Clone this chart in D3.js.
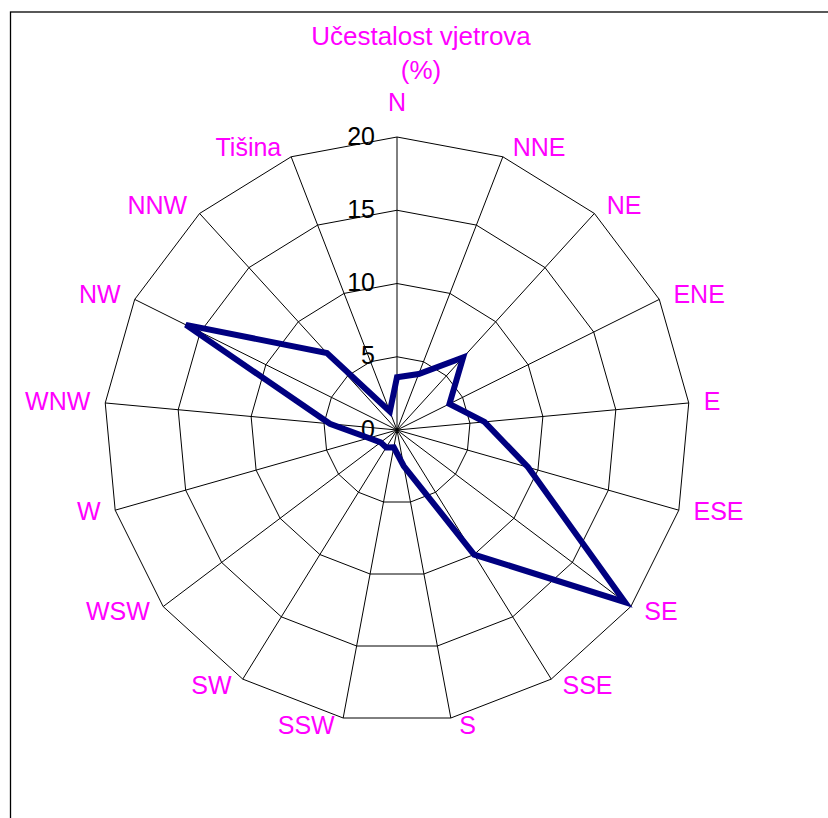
<!DOCTYPE html>
<html>
<head>
<meta charset="utf-8">
<script src="https://cdn.jsdelivr.net/npm/d3@7"></script>
<style>
  body { margin: 0; background: #fff; }
  svg { display: block; font-family: "Liberation Sans", Arial, sans-serif; }
</style>
</head>
<body>
<div class="displayContainer"></div>
<script>
// wind directions, last one is calm
const directions = ['N', 'NNE', 'NE', 'ENE', 'E', 'ESE', 'SE', 'SSE', 'S', 'SSW', 'SW', 'WSW', 'W', 'WNW', 'NW', 'NNW', 'Tišina'];
// frequency in %
const frequency = [3.6, 4.1, 6.7, 4.0, 6.0, 9.3, 19.5, 10.0, 2.5, 1.2, 1.4, 1.4, 2.0, 4.6, 16.1, 7.1, 1.35];
const ticks = [0, 5, 10, 15, 20];
const titleLines = ['Učestalost vjetrova', '(%)'];

const width = 828, height = 818;
const cx = 397, cy = 430;

const canvas = d3.select('.displayContainer')
                 .append('svg')
                 .attr('width', width)
                 .attr('height', height);

// frame (right/bottom edges run off the picture)
canvas.append('rect')
      .attr('x', 10.5).attr('y', 12)
      .attr('width', 900).attr('height', 900)
      .attr('fill', 'none')
      .attr('stroke', '#000')
      .attr('stroke-width', 1.3);

const rScale = d3.scaleLinear().domain([0, 20]).range([0, 293]);
const angle = d3.scaleLinear().domain([0, directions.length]).range([0, 2 * Math.PI]);

const pt = (i, v) => [cx + rScale(v) * Math.sin(angle(i)), cy - rScale(v) * Math.cos(angle(i))];

const g = canvas.append('g');

// rings
g.selectAll('.ring')
 .data(ticks.slice(1))
 .enter()
 .append('polygon')
 .attr('class', 'ring')
 .attr('points', t => directions.map((d, i) => pt(i, t).join(',')).join(' '))
 .attr('fill', 'none')
 .attr('stroke', '#000')
 .attr('stroke-width', 1);

// spokes
g.selectAll('.spoke')
 .data(directions)
 .enter()
 .append('line')
 .attr('class', 'spoke')
 .attr('x1', cx).attr('y1', cy)
 .attr('x2', (d, i) => pt(i, 20)[0])
 .attr('y2', (d, i) => pt(i, 20)[1])
 .attr('stroke', '#000')
 .attr('stroke-width', 1);

// tick labels
g.selectAll('.tick')
 .data(ticks)
 .enter()
 .append('text')
 .attr('class', 'tick')
 .attr('x', cx - 22)
 .attr('y', t => cy - rScale(t) + 1)
 .attr('text-anchor', 'end')
 .attr('dominant-baseline', 'middle')
 .style('font-size', '25px')
 .attr('fill', '#000')
 .text(t => t);

// series
const line = d3.line().curve(d3.curveLinearClosed);
g.append('path')
 .attr('d', line(frequency.map((v, i) => pt(i, v))))
 .attr('fill', 'none')
 .attr('stroke', '#000080')
 .attr('stroke-width', 6)
 .attr('stroke-linejoin', 'miter');

// category labels
g.selectAll('.cat')
 .data(directions)
 .enter()
 .append('text')
 .attr('class', 'cat')
 .each(function (d, i) {
   const a = angle(i);
   const s = Math.sin(a), c = Math.cos(a);
   const [ex, ey] = pt(i, 20);
   let anchor = 'middle', x = ex, y = ey - 9 * c + 1;
   if (s > 0.05) { anchor = 'start'; x = ex + 7 + 8 * Math.abs(s); }
   else if (s < -0.05) { anchor = 'end'; x = ex - 7 - 8 * Math.abs(s); }
   else { y = ey - 33 * c; }
   d3.select(this)
     .attr('x', x).attr('y', y)
     .attr('text-anchor', anchor)
     .attr('dominant-baseline', 'middle');
 })
 .style('font-size', '25px')
 .attr('fill', '#ff00ff')
 .text(d => d);

// title
canvas.selectAll('.title')
      .data(titleLines)
      .enter()
      .append('text')
      .attr('class', 'title')
      .attr('x', 421)
      .attr('y', (d, i) => 45 + i * 34)
      .attr('text-anchor', 'middle')
      .style('font-size', '26px')
      .attr('fill', '#ff00ff')
      .text(d => d);
</script>
</body>
</html>
